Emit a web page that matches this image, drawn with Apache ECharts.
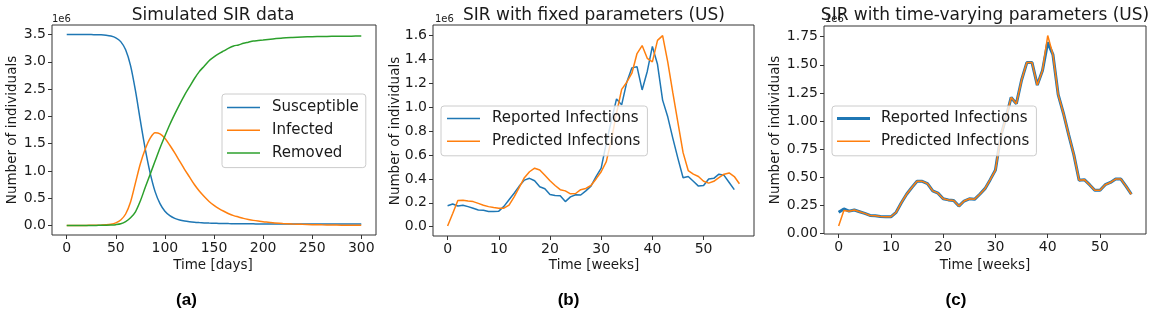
<!DOCTYPE html>
<html><head><meta charset="utf-8">
<script src="https://cdn.jsdelivr.net/npm/echarts@6/dist/echarts.min.js"></script>
<style>html,body{margin:0;padding:0;background:#fff}#c{width:1159px;height:313px}</style>
</head><body><div id="c"></div>
<script>
// ---------- Panel (a): simulated SIR (values in millions) ----------
const sirDays = [0,5,10,15,20,25,30,35,40,45,50,55,60,65,70,75,80,85,90,95,100,105,110,115,120,125,130,135,140,145,150,155,160,165,170,175,180,185,190,195,200,210,220,230,240,250,260,270,280,290,300];
const susceptible = [3.5,3.5,3.4999,3.4997,3.4994,3.4988,3.4975,3.495,3.487,3.472,3.44,3.37,3.22,2.93,2.47,1.92,1.40,0.96,0.62,0.40,0.26,0.18,0.13,0.10,0.08,0.067,0.058,0.052,0.047,0.043,0.04,0.038,0.036,0.034,0.033,0.032,0.031,0.030,0.029,0.0285,0.028,0.027,0.0265,0.026,0.0255,0.025,0.025,0.025,0.025,0.025,0.025];
const infected = [0.0002,0.0003,0.0005,0.0008,0.0012,0.002,0.003,0.006,0.011,0.022,0.048,0.10,0.21,0.43,0.78,1.13,1.40,1.60,1.70,1.68,1.60,1.47,1.33,1.18,1.03,0.89,0.75,0.63,0.53,0.44,0.37,0.31,0.26,0.215,0.18,0.155,0.13,0.11,0.093,0.08,0.07,0.05,0.037,0.027,0.02,0.015,0.011,0.008,0.006,0.004,0.003];
const removed = [0,0,0.0001,0.0002,0.0004,0.0007,0.0012,0.002,0.004,0.008,0.015,0.03,0.07,0.14,0.25,0.45,0.70,0.94,1.18,1.42,1.64,1.85,2.04,2.22,2.39,2.54,2.69,2.82,2.92,3.02,3.09,3.15,3.20,3.25,3.29,3.31,3.34,3.36,3.38,3.39,3.40,3.42,3.437,3.447,3.455,3.46,3.464,3.467,3.469,3.471,3.472];

// ---------- Panel (b): fixed parameters (weeks, millions) ----------
const reportedB = [0.176,0.19,0.173,0.18,0.168,0.154,0.14,0.137,0.128,0.128,0.13,0.17,0.225,0.28,0.34,0.39,0.405,0.385,0.335,0.318,0.27,0.262,0.26,0.21,0.25,0.268,0.265,0.30,0.34,0.42,0.49,0.70,0.89,1.07,1.02,1.21,1.33,1.34,1.145,1.30,1.51,1.36,1.06,0.92,0.74,0.57,0.41,0.42,0.38,0.34,0.345,0.40,0.405,0.44,0.43,0.37,0.31];
const predictedB = [0.005,0.11,0.22,0.222,0.215,0.21,0.195,0.18,0.168,0.16,0.155,0.155,0.18,0.25,0.33,0.41,0.46,0.49,0.475,0.43,0.385,0.345,0.31,0.30,0.275,0.278,0.31,0.32,0.345,0.40,0.46,0.545,0.73,0.95,1.15,1.21,1.285,1.45,1.517,1.41,1.38,1.56,1.60,1.38,1.12,0.87,0.62,0.47,0.44,0.42,0.38,0.365,0.38,0.41,0.44,0.45,0.42,0.36];

// ---------- Panel (c): time-varying parameters (weeks, millions) ----------
const reportedC = [0.19,0.22,0.20,0.21,0.195,0.18,0.162,0.16,0.153,0.15,0.15,0.19,0.275,0.35,0.41,0.465,0.465,0.445,0.38,0.36,0.31,0.30,0.295,0.245,0.29,0.31,0.305,0.35,0.40,0.48,0.565,0.865,1.03,1.21,1.155,1.365,1.52,1.52,1.32,1.45,1.70,1.59,1.235,1.07,0.88,0.70,0.475,0.48,0.435,0.385,0.385,0.435,0.455,0.485,0.485,0.42,0.35];
const predictedC = [0.068,0.205,0.20,0.21,0.195,0.18,0.162,0.16,0.153,0.15,0.15,0.19,0.275,0.35,0.41,0.465,0.465,0.445,0.38,0.36,0.31,0.30,0.295,0.245,0.29,0.31,0.305,0.35,0.40,0.48,0.565,0.865,1.03,1.21,1.155,1.365,1.52,1.52,1.32,1.45,1.76,1.59,1.235,1.07,0.88,0.70,0.475,0.48,0.435,0.385,0.385,0.435,0.455,0.485,0.485,0.42,0.35];

// ---------- Tick values ----------
const ticksXA = [0,50,100,150,200,250,300];
const ticksYA = [0,0.5,1,1.5,2,2.5,3,3.5];
const ticksXB = [0,10,20,30,40,50];
const ticksYB = [0,0.2,0.4,0.6,0.8,1.0,1.2,1.4,1.6];
const ticksXC = [0,10,20,30,40,50];
const ticksYC = [0,0.25,0.5,0.75,1.0,1.25,1.5,1.75];

const BLUE='#1f77b4', ORANGE='#ff7f0e', GREEN='#2ca02c';
const FONT='"DejaVu Sans"';
const AX='#333', TXT='#1a1a1a';
const THIN='path://M0,0h40v1.8h-40z', THICK='path://M0,0h40v3.4h-40z';

function pairs(xs, ys){ return ys.map((y,i)=>[xs[i], y]); }
function idx(ys){ return ys.map((y,i)=>[i, y]); }

function axis(gi, min, max, ticks, dec){
  return {
    type:'value', gridIndex:gi, min:min, max:max,
    axisLine:{show:false, onZero:false},
    axisTick:{show:true, inside:false, length:4, lineStyle:{color:AX, width:1}, customValues:ticks},
    axisLabel:{show:true, customValues:ticks, color:TXT, fontSize:14, fontFamily:'DejaVu Sans', margin:6,
      formatter:(v)=> dec==null ? String(Math.round(v)) : Number(v).toFixed(dec)},
    splitLine:{show:false}
  };
}
function line(name, data, xi, color, w){
  return {type:'line', name:name, xAxisIndex:xi, yAxisIndex:xi, data:data, symbol:'none', smooth:false,
    lineStyle:{color:color, width:w}, itemStyle:{color:color}, animation:false, silent:true};
}
function legendOf(items, left, top, pad, tpad){
  return {data:items, orient:'vertical', left:left, top:top, itemWidth:33, itemHeight:15, itemGap:7.8,
    padding:pad, backgroundColor:'rgba(255,255,255,0.8)', borderColor:'#cccccc', borderWidth:1, borderRadius:3,
    selectedMode:false, formatter:(n)=>n.replace(' (c)',''),
    textStyle:{fontSize:15, fontFamily:'DejaVu Sans', color:TXT, padding:[0,0,0,tpad]}};
}
function txt(t, x, y, font, opts){
  return Object.assign({type:'text', x:x, y:y, silent:true, z:100,
    style:{text:t, font:font, fill:TXT, align:'center', verticalAlign:'middle'}}, opts||{});
}
function ltxt(t, x, y, font){
  return {type:'text', x:x, y:y, silent:true, z:100,
    style:{text:t, font:font, fill:TXT, align:'left', verticalAlign:'middle'}};
}
function btxt(t, x, y){
  return {type:'text', x:x, y:y, silent:true, z:100,
    style:{text:t, font:'bold 17px "Liberation Sans"', fill:'#000', align:'center', verticalAlign:'middle'}};
}

const chart = echarts.init(document.getElementById('c'), null, {renderer:'canvas'});
const sA = s => Object.assign(s, {smooth:0.3});
const T17 = '17px '+FONT, T14 = '13.5px '+FONT, T10 = '10px '+FONT;
chart.setOption({
  animation:false,
  backgroundColor:'#fff',
  grid:[
    {left:52, top:25, width:324, height:210, show:true, borderColor:AX, borderWidth:1},
    {left:433, top:25, width:321, height:211, show:true, borderColor:AX, borderWidth:1},
    {left:824, top:26, width:322, height:208, show:true, borderColor:AX, borderWidth:1}
  ],
  xAxis:[ axis(0,-15,315,ticksXA,null), axis(1,-2.85,59.85,ticksXB,null), axis(2,-2.8,58.8,ticksXC,null) ],
  yAxis:[ axis(0,-0.175,3.675,ticksYA,1), axis(1,-0.078,1.689,ticksYB,1), axis(2,-0.003,1.845,ticksYC,2) ],
  legend:[
    legendOf([{name:'Susceptible',icon:THIN},{name:'Infected',icon:THIN},{name:'Removed',icon:THIN}], 222, 94, [6,7,7,5], 7),
    legendOf([{name:'Reported Infections',icon:THIN},{name:'Predicted Infections',icon:THIN}], 441, 106, [5,7,7,6], 7),
    legendOf([{name:'Reported Infections (c)',icon:THICK},{name:'Predicted Infections (c)',icon:THIN}], 832, 106, [5,7,7,5], 6)
  ],
  series:[
    sA(line('Susceptible', pairs(sirDays, susceptible), 0, BLUE, 1.5)),
    sA(line('Infected', pairs(sirDays, infected), 0, ORANGE, 1.5)),
    sA(line('Removed', pairs(sirDays, removed), 0, GREEN, 1.5)),
    line('Reported Infections', idx(reportedB), 1, BLUE, 1.5),
    line('Predicted Infections', idx(predictedB), 1, ORANGE, 1.5),
    line('Reported Infections (c)', idx(reportedC), 2, BLUE, 3),
    line('Predicted Infections (c)', idx(predictedC), 2, ORANGE, 1.5)
  ],
  graphic:[
    txt('Simulated SIR data', 213, 15.5, T17),
    txt('SIR with fixed parameters (US)', 594, 15.5, T17),
    txt('SIR with time-varying parameters (US)', 985, 15.5, T17),
    ltxt('1e6', 52, 19.5, T10),
    ltxt('1e6', 435, 19.5, T10),
    ltxt('1e6', 825, 19.5, T10),
    txt('Number of individuals', 12.5, 130, T14, {rotation:Math.PI/2}),
    txt('Number of individuals', 395, 131, T14, {rotation:Math.PI/2}),
    txt('Number of individuals', 775.5, 130, T14, {rotation:Math.PI/2}),
    txt('Time [days]', 213, 265, T14),
    txt('Time [weeks]', 594, 265, T14),
    txt('Time [weeks]', 985, 265.5, T14),
    btxt('(a)', 186.5, 300.5),
    btxt('(b)', 568.5, 300.5),
    btxt('(c)', 956, 300.5)
  ]
});
</script></body></html>
